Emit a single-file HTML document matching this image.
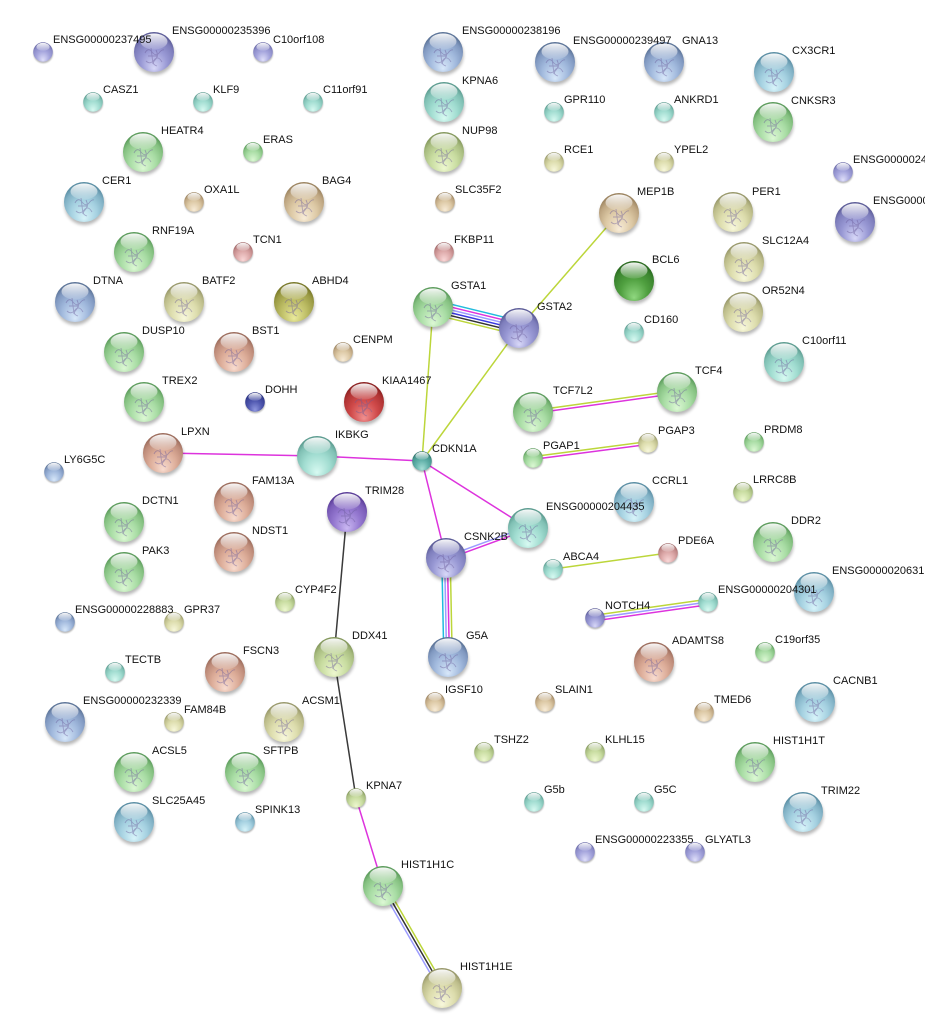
<!DOCTYPE html>
<html><head><meta charset="utf-8"><style>
html,body{margin:0;padding:0;background:#fff;}
svg{display:block;}
text{font-family:"Liberation Sans",Arial,sans-serif;font-size:11px;fill:#111;}
</style></head><body>
<svg width="925" height="1033" viewBox="0 0 925 1033" xmlns="http://www.w3.org/2000/svg" xmlns:xlink="http://www.w3.org/1999/xlink">
<defs>
<filter id="bl" x="-50%" y="-50%" width="200%" height="200%"><feGaussianBlur stdDeviation="1.6"/></filter>
<linearGradient id="hl" x1="0" y1="0" x2="0" y2="1"><stop offset="0" stop-color="#fff" stop-opacity=".95"/><stop offset="1" stop-color="#fff" stop-opacity=".12"/></linearGradient>
<radialGradient id="g-lav" cx="50%" cy="65%" r="60%" fx="50%" fy="92%"><stop offset="0" stop-color="#e0e0fa"/><stop offset=".55" stop-color="#a4a4dc"/><stop offset=".85" stop-color="#8c8cc8"/><stop offset="1" stop-color="#6a6aa8"/></radialGradient>
<radialGradient id="g-purple" cx="50%" cy="65%" r="60%" fx="50%" fy="92%"><stop offset="0" stop-color="#cab8f2"/><stop offset=".55" stop-color="#9478d0"/><stop offset=".85" stop-color="#7a5cb8"/><stop offset="1" stop-color="#5a3c98"/></radialGradient>
<radialGradient id="g-gpur" cx="50%" cy="65%" r="60%" fx="50%" fy="92%"><stop offset="0" stop-color="#d8d8f8"/><stop offset=".55" stop-color="#9898d4"/><stop offset=".85" stop-color="#7e7ebc"/><stop offset="1" stop-color="#5c5c98"/></radialGradient>
<radialGradient id="g-blue" cx="50%" cy="65%" r="60%" fx="50%" fy="92%"><stop offset="0" stop-color="#d8e8fa"/><stop offset=".55" stop-color="#a0b8dc"/><stop offset=".85" stop-color="#8098c0"/><stop offset="1" stop-color="#5c7498"/></radialGradient>
<radialGradient id="g-lblue" cx="50%" cy="65%" r="60%" fx="50%" fy="92%"><stop offset="0" stop-color="#d8f4fa"/><stop offset=".55" stop-color="#a4d0e0"/><stop offset=".85" stop-color="#80b0c4"/><stop offset="1" stop-color="#5a8ea4"/></radialGradient>
<radialGradient id="g-cyan" cx="50%" cy="65%" r="60%" fx="50%" fy="92%"><stop offset="0" stop-color="#d8faf2"/><stop offset=".55" stop-color="#a0dcd0"/><stop offset=".85" stop-color="#80c0b4"/><stop offset="1" stop-color="#5c9c90"/></radialGradient>
<radialGradient id="g-teal" cx="50%" cy="65%" r="60%" fx="50%" fy="92%"><stop offset="0" stop-color="#a8e0d8"/><stop offset=".55" stop-color="#60b0a8"/><stop offset=".85" stop-color="#489890"/><stop offset="1" stop-color="#2c7068"/></radialGradient>
<radialGradient id="g-green" cx="50%" cy="65%" r="60%" fx="50%" fy="92%"><stop offset="0" stop-color="#dcf8d4"/><stop offset=".55" stop-color="#a8dca4"/><stop offset=".85" stop-color="#84c080"/><stop offset="1" stop-color="#5c9c5c"/></radialGradient>
<radialGradient id="g-yg" cx="50%" cy="65%" r="60%" fx="50%" fy="92%"><stop offset="0" stop-color="#eef8d0"/><stop offset=".55" stop-color="#c8dca0"/><stop offset=".85" stop-color="#a8bc80"/><stop offset="1" stop-color="#84985c"/></radialGradient>
<radialGradient id="g-yellow" cx="50%" cy="65%" r="60%" fx="50%" fy="92%"><stop offset="0" stop-color="#f8f8dc"/><stop offset=".55" stop-color="#dcdcac"/><stop offset=".85" stop-color="#bcbc8a"/><stop offset="1" stop-color="#98986a"/></radialGradient>
<radialGradient id="g-tan" cx="50%" cy="65%" r="60%" fx="50%" fy="92%"><stop offset="0" stop-color="#f8ecd8"/><stop offset=".55" stop-color="#dcc8a4"/><stop offset=".85" stop-color="#bea682"/><stop offset="1" stop-color="#9c8460"/></radialGradient>
<radialGradient id="g-salmon" cx="50%" cy="65%" r="60%" fx="50%" fy="92%"><stop offset="0" stop-color="#f8dcd0"/><stop offset=".55" stop-color="#dcac98"/><stop offset=".85" stop-color="#be8c7a"/><stop offset="1" stop-color="#9c6c5c"/></radialGradient>
<radialGradient id="g-pink" cx="50%" cy="65%" r="60%" fx="50%" fy="92%"><stop offset="0" stop-color="#fad8d8"/><stop offset=".55" stop-color="#dca8a8"/><stop offset=".85" stop-color="#c08888"/><stop offset="1" stop-color="#a06868"/></radialGradient>
<radialGradient id="g-red" cx="50%" cy="65%" r="60%" fx="50%" fy="92%"><stop offset="0" stop-color="#f09090"/><stop offset=".55" stop-color="#d04a4a"/><stop offset=".85" stop-color="#b03434"/><stop offset="1" stop-color="#8c2020"/></radialGradient>
<radialGradient id="g-dgreen" cx="50%" cy="65%" r="60%" fx="50%" fy="92%"><stop offset="0" stop-color="#90d880"/><stop offset=".55" stop-color="#50a040"/><stop offset=".85" stop-color="#3c8630"/><stop offset="1" stop-color="#2a6a20"/></radialGradient>
<radialGradient id="g-navy" cx="50%" cy="65%" r="60%" fx="50%" fy="92%"><stop offset="0" stop-color="#9098e0"/><stop offset=".55" stop-color="#5058b0"/><stop offset=".85" stop-color="#3c4498"/><stop offset="1" stop-color="#283080"/></radialGradient>
<radialGradient id="g-olive" cx="50%" cy="65%" r="60%" fx="50%" fy="92%"><stop offset="0" stop-color="#eaea9c"/><stop offset=".55" stop-color="#bcbc64"/><stop offset=".85" stop-color="#9a9a44"/><stop offset="1" stop-color="#787828"/></radialGradient>

<g id="sh"><circle cx="0.5" cy="3" r="20" fill="#000" opacity=".28" filter="url(#bl)"/></g>
<ellipse id="hi" cx="0" cy="-10.5" rx="13.5" ry="8" fill="url(#hl)"/>
<g id="n-lav"><use href="#sh"/><circle r="20" fill="url(#g-lav)"/><use href="#hi"/></g>
<g id="n-purple"><use href="#sh"/><circle r="20" fill="url(#g-purple)"/><use href="#hi"/></g>
<g id="n-gpur"><use href="#sh"/><circle r="20" fill="url(#g-gpur)"/><use href="#hi"/></g>
<g id="n-blue"><use href="#sh"/><circle r="20" fill="url(#g-blue)"/><use href="#hi"/></g>
<g id="n-lblue"><use href="#sh"/><circle r="20" fill="url(#g-lblue)"/><use href="#hi"/></g>
<g id="n-cyan"><use href="#sh"/><circle r="20" fill="url(#g-cyan)"/><use href="#hi"/></g>
<g id="n-teal"><use href="#sh"/><circle r="20" fill="url(#g-teal)"/><use href="#hi"/></g>
<g id="n-green"><use href="#sh"/><circle r="20" fill="url(#g-green)"/><use href="#hi"/></g>
<g id="n-yg"><use href="#sh"/><circle r="20" fill="url(#g-yg)"/><use href="#hi"/></g>
<g id="n-yellow"><use href="#sh"/><circle r="20" fill="url(#g-yellow)"/><use href="#hi"/></g>
<g id="n-tan"><use href="#sh"/><circle r="20" fill="url(#g-tan)"/><use href="#hi"/></g>
<g id="n-salmon"><use href="#sh"/><circle r="20" fill="url(#g-salmon)"/><use href="#hi"/></g>
<g id="n-pink"><use href="#sh"/><circle r="20" fill="url(#g-pink)"/><use href="#hi"/></g>
<g id="n-red"><use href="#sh"/><circle r="20" fill="url(#g-red)"/><use href="#hi"/></g>
<g id="n-dgreen"><use href="#sh"/><circle r="20" fill="url(#g-dgreen)"/><use href="#hi"/></g>
<g id="n-navy"><use href="#sh"/><circle r="20" fill="url(#g-navy)"/><use href="#hi"/></g>
<g id="n-olive"><use href="#sh"/><circle r="20" fill="url(#g-olive)"/><use href="#hi"/></g>
<g id="st" fill="none" stroke="#6a5a9a" stroke-width=".9" opacity=".45"><path d="M-9,-3 q3,-6 7,-1 t7,1 t5,-3 M-8,5 q4,4 8,-1 t8,2 M-3,-8 l2,16 M2,-6 q3,6 -1,10 t2,6 M-6,0 h10"/></g>
</defs>

<!-- edges -->
<g fill="none" stroke-width="1.5" stroke-linecap="round">
<line x1="163" y1="453" x2="317" y2="456" stroke="#dd33dd"/>
<line x1="317" y1="456" x2="422" y2="461" stroke="#dd33dd"/>
<line x1="422" y1="461" x2="433" y2="307" stroke="#bcd63a"/>
<line x1="422" y1="461" x2="519" y2="328" stroke="#bcd63a"/>
<line x1="519" y1="328" x2="619" y2="213" stroke="#bcd63a"/>
<line x1="422" y1="461" x2="528" y2="528" stroke="#dd33dd"/>
<line x1="422" y1="461" x2="446" y2="558" stroke="#dd33dd"/>
<line x1="553" y1="569" x2="668" y2="553" stroke="#bcd63a"/>
<line x1="347" y1="512" x2="334" y2="657" stroke="#3a3a3a"/>
<line x1="334" y1="657" x2="356" y2="798" stroke="#3a3a3a"/>
<line x1="356" y1="798" x2="383" y2="886" stroke="#dd33dd"/>
<!-- GSTA1-GSTA2 -->
<g transform="translate(433,307) rotate(13.72)">
<line x1="0" y1="-7" x2="88.5" y2="-7" stroke="#22bbdd"/>
<line x1="0" y1="-4.2" x2="88.5" y2="-4.2" stroke="#dd33dd"/>
<line x1="0" y1="-1.4" x2="88.5" y2="-1.4" stroke="#9c9cff"/>
<line x1="0" y1="1.4" x2="88.5" y2="1.4" stroke="#3a3ae0"/>
<line x1="0" y1="4.2" x2="88.5" y2="4.2" stroke="#333"/>
<line x1="0" y1="7" x2="88.5" y2="7" stroke="#bcd63a"/>
</g>
<!-- CSNK2B-G5A -->
<g transform="translate(446,558) rotate(88.84)">
<line x1="0" y1="4.2" x2="99" y2="4.2" stroke="#22bbdd"/>
<line x1="0" y1="1.4" x2="99" y2="1.4" stroke="#9c9cff"/>
<line x1="0" y1="-1.4" x2="99" y2="-1.4" stroke="#dd33dd"/>
<line x1="0" y1="-4.2" x2="99" y2="-4.2" stroke="#bcd63a"/>
</g>
<!-- CSNK2B-ENSG435 -->
<g transform="translate(446,558) rotate(-20.09)">
<line x1="0" y1="-1.4" x2="87.3" y2="-1.4" stroke="#9c9cff"/>
<line x1="0" y1="1.4" x2="87.3" y2="1.4" stroke="#dd33dd"/>
</g>
<!-- TCF7L2-TCF4 -->
<g transform="translate(533,412) rotate(-7.91)">
<line x1="0" y1="-1.4" x2="145.4" y2="-1.4" stroke="#bcd63a"/>
<line x1="0" y1="1.4" x2="145.4" y2="1.4" stroke="#dd33dd"/>
</g>
<!-- PGAP1-PGAP3 -->
<g transform="translate(533,458) rotate(-7.43)">
<line x1="0" y1="-1.4" x2="116" y2="-1.4" stroke="#bcd63a"/>
<line x1="0" y1="1.4" x2="116" y2="1.4" stroke="#dd33dd"/>
</g>
<!-- NOTCH4-ENSG301 -->
<g transform="translate(595,618) rotate(-8.06)">
<line x1="0" y1="-2.8" x2="114.1" y2="-2.8" stroke="#bcd63a"/>
<line x1="0" y1="0" x2="114.1" y2="0" stroke="#9c9cff"/>
<line x1="0" y1="2.8" x2="114.1" y2="2.8" stroke="#dd33dd"/>
</g>
<!-- HIST1H1C-HIST1H1E -->
<g transform="translate(383,886) rotate(59.96)">
<line x1="0" y1="2.8" x2="117.8" y2="2.8" stroke="#9c9cff"/>
<line x1="0" y1="0" x2="117.8" y2="0" stroke="#333"/>
<line x1="0" y1="-2.8" x2="117.8" y2="-2.8" stroke="#bcd63a"/>
</g>
</g>

<!-- nodes: large -->
<use href="#n-gpur" transform="translate(154,52)"/>
<use href="#n-green" transform="translate(143,152)"/>
<use href="#n-lblue" transform="translate(84,202)"/>
<use href="#n-tan" transform="translate(304,202)"/>
<use href="#n-green" transform="translate(134,252)"/>
<use href="#n-blue" transform="translate(75,302)"/>
<use href="#n-yellow" transform="translate(184,302)"/>
<use href="#n-olive" transform="translate(294,302)"/>
<use href="#n-green" transform="translate(124,352)"/>
<use href="#n-salmon" transform="translate(234,352)"/>
<use href="#n-green" transform="translate(144,402)"/>
<use href="#n-red" transform="translate(364,402)"/>
<use href="#n-salmon" transform="translate(163,453)"/>
<use href="#n-cyan" transform="translate(317,456)"/>
<use href="#n-salmon" transform="translate(234,502)"/>
<use href="#n-purple" transform="translate(347,512)"/>
<use href="#n-green" transform="translate(124,522)"/>
<use href="#n-salmon" transform="translate(234,552)"/>
<use href="#n-green" transform="translate(124,572)"/>
<use href="#n-yg" transform="translate(334,657)"/>
<use href="#n-salmon" transform="translate(225,672)"/>
<use href="#n-blue" transform="translate(65,722)"/>
<use href="#n-yellow" transform="translate(284,722)"/>
<use href="#n-green" transform="translate(134,772)"/>
<use href="#n-green" transform="translate(245,772)"/>
<use href="#n-lblue" transform="translate(134,822)"/>
<use href="#n-green" transform="translate(383,886)"/>
<use href="#n-yellow" transform="translate(442,988)"/>
<use href="#n-blue" transform="translate(443,52)"/>
<use href="#n-cyan" transform="translate(444,102)"/>
<use href="#n-yg" transform="translate(444,152)"/>
<use href="#n-green" transform="translate(433,307)"/>
<use href="#n-gpur" transform="translate(519,328)"/>
<use href="#n-blue" transform="translate(555,62)"/>
<use href="#n-blue" transform="translate(664,62)"/>
<use href="#n-tan" transform="translate(619,213)"/>
<use href="#n-dgreen" transform="translate(634,281)"/>
<use href="#n-green" transform="translate(677,392)"/>
<use href="#n-green" transform="translate(533,412)"/>
<use href="#n-lblue" transform="translate(634,502)"/>
<use href="#n-cyan" transform="translate(528,528)"/>
<use href="#n-gpur" transform="translate(446,558)"/>
<use href="#n-blue" transform="translate(448,657)"/>
<use href="#n-salmon" transform="translate(654,662)"/>
<use href="#n-lblue" transform="translate(774,72)"/>
<use href="#n-green" transform="translate(773,122)"/>
<use href="#n-yellow" transform="translate(733,212)"/>
<use href="#n-gpur" transform="translate(855,222)"/>
<use href="#n-yellow" transform="translate(744,262)"/>
<use href="#n-yellow" transform="translate(743,312)"/>
<use href="#n-cyan" transform="translate(784,362)"/>
<use href="#n-green" transform="translate(773,542)"/>
<use href="#n-lblue" transform="translate(814,592)"/>
<use href="#n-lblue" transform="translate(815,702)"/>
<use href="#n-green" transform="translate(755,762)"/>
<use href="#n-lblue" transform="translate(803,812)"/>

<!-- structure hints on large nodes -->
<g>
<use href="#st" transform="translate(154,56)"/><use href="#st" transform="translate(143,156)"/><use href="#st" transform="translate(84,206)"/><use href="#st" transform="translate(304,206)"/><use href="#st" transform="translate(134,256)"/><use href="#st" transform="translate(75,306)"/><use href="#st" transform="translate(184,306)"/><use href="#st" transform="translate(294,306)"/><use href="#st" transform="translate(124,356)"/><use href="#st" transform="translate(234,356)"/><use href="#st" transform="translate(144,406)"/><use href="#st" transform="translate(364,406)"/><use href="#st" transform="translate(163,457)"/><use href="#st" transform="translate(234,506)"/><use href="#st" transform="translate(347,516)"/><use href="#st" transform="translate(124,526)"/><use href="#st" transform="translate(234,556)"/><use href="#st" transform="translate(124,576)"/><use href="#st" transform="translate(334,661)"/><use href="#st" transform="translate(225,676)"/><use href="#st" transform="translate(65,726)"/><use href="#st" transform="translate(284,726)"/><use href="#st" transform="translate(134,776)"/><use href="#st" transform="translate(245,776)"/><use href="#st" transform="translate(134,826)"/><use href="#st" transform="translate(383,890)"/><use href="#st" transform="translate(442,992)"/><use href="#st" transform="translate(443,56)"/><use href="#st" transform="translate(444,106)"/><use href="#st" transform="translate(444,156)"/><use href="#st" transform="translate(433,311)"/><use href="#st" transform="translate(519,332)"/><use href="#st" transform="translate(555,66)"/><use href="#st" transform="translate(664,66)"/><use href="#st" transform="translate(619,217)"/><use href="#st" transform="translate(677,396)"/><use href="#st" transform="translate(533,416)"/><use href="#st" transform="translate(634,506)"/><use href="#st" transform="translate(528,532)"/><use href="#st" transform="translate(446,562)"/><use href="#st" transform="translate(448,661)"/><use href="#st" transform="translate(654,666)"/><use href="#st" transform="translate(774,76)"/><use href="#st" transform="translate(773,126)"/><use href="#st" transform="translate(733,216)"/><use href="#st" transform="translate(855,226)"/><use href="#st" transform="translate(744,266)"/><use href="#st" transform="translate(743,316)"/><use href="#st" transform="translate(784,366)"/><use href="#st" transform="translate(773,546)"/><use href="#st" transform="translate(814,596)"/><use href="#st" transform="translate(815,706)"/><use href="#st" transform="translate(755,766)"/><use href="#st" transform="translate(803,816)"/>
</g>

<!-- nodes: small -->
<use href="#n-lav" transform="translate(43,52) scale(.49)"/>
<use href="#n-lav" transform="translate(263,52) scale(.49)"/>
<use href="#n-cyan" transform="translate(93,102) scale(.49)"/>
<use href="#n-cyan" transform="translate(203,102) scale(.49)"/>
<use href="#n-cyan" transform="translate(313,102) scale(.49)"/>
<use href="#n-green" transform="translate(253,152) scale(.49)"/>
<use href="#n-tan" transform="translate(194,202) scale(.49)"/>
<use href="#n-pink" transform="translate(243,252) scale(.49)"/>
<use href="#n-tan" transform="translate(343,352) scale(.49)"/>
<use href="#n-navy" transform="translate(255,402) scale(.49)"/>
<use href="#n-blue" transform="translate(54,472) scale(.49)"/>
<use href="#n-teal" transform="translate(422,461) scale(.49)"/>
<use href="#n-yg" transform="translate(285,602) scale(.49)"/>
<use href="#n-blue" transform="translate(65,622) scale(.49)"/>
<use href="#n-yellow" transform="translate(174,622) scale(.49)"/>
<use href="#n-cyan" transform="translate(115,672) scale(.49)"/>
<use href="#n-yellow" transform="translate(174,722) scale(.49)"/>
<use href="#n-lblue" transform="translate(245,822) scale(.49)"/>
<use href="#n-yg" transform="translate(356,798) scale(.49)"/>
<use href="#n-tan" transform="translate(445,202) scale(.49)"/>
<use href="#n-pink" transform="translate(444,252) scale(.49)"/>
<use href="#n-cyan" transform="translate(554,112) scale(.49)"/>
<use href="#n-cyan" transform="translate(664,112) scale(.49)"/>
<use href="#n-yellow" transform="translate(554,162) scale(.49)"/>
<use href="#n-yellow" transform="translate(664,162) scale(.49)"/>
<use href="#n-cyan" transform="translate(634,332) scale(.49)"/>
<use href="#n-yellow" transform="translate(648,443) scale(.49)"/>
<use href="#n-green" transform="translate(533,458) scale(.49)"/>
<use href="#n-pink" transform="translate(668,553) scale(.49)"/>
<use href="#n-cyan" transform="translate(553,569) scale(.49)"/>
<use href="#n-cyan" transform="translate(708,602) scale(.49)"/>
<use href="#n-gpur" transform="translate(595,618) scale(.49)"/>
<use href="#n-tan" transform="translate(435,702) scale(.49)"/>
<use href="#n-tan" transform="translate(545,702) scale(.49)"/>
<use href="#n-tan" transform="translate(704,712) scale(.49)"/>
<use href="#n-yg" transform="translate(484,752) scale(.49)"/>
<use href="#n-yg" transform="translate(595,752) scale(.49)"/>
<use href="#n-cyan" transform="translate(534,802) scale(.49)"/>
<use href="#n-cyan" transform="translate(644,802) scale(.49)"/>
<use href="#n-lav" transform="translate(585,852) scale(.49)"/>
<use href="#n-lav" transform="translate(695,852) scale(.49)"/>
<use href="#n-lav" transform="translate(843,172) scale(.49)"/>
<use href="#n-green" transform="translate(754,442) scale(.49)"/>
<use href="#n-yg" transform="translate(743,492) scale(.49)"/>
<use href="#n-green" transform="translate(765,652) scale(.49)"/>

<!-- labels -->
<g>
<text x="53" y="43">ENSG00000237495</text>
<text x="172" y="34">ENSG00000235396</text>
<text x="273" y="43">C10orf108</text>
<text x="103" y="93">CASZ1</text>
<text x="213" y="93">KLF9</text>
<text x="323" y="93">C11orf91</text>
<text x="161" y="134">HEATR4</text>
<text x="263" y="143">ERAS</text>
<text x="102" y="184">CER1</text>
<text x="204" y="193">OXA1L</text>
<text x="322" y="184">BAG4</text>
<text x="152" y="234">RNF19A</text>
<text x="253" y="243">TCN1</text>
<text x="93" y="284">DTNA</text>
<text x="202" y="284">BATF2</text>
<text x="312" y="284">ABHD4</text>
<text x="142" y="334">DUSP10</text>
<text x="252" y="334">BST1</text>
<text x="353" y="343">CENPM</text>
<text x="162" y="384">TREX2</text>
<text x="265" y="393">DOHH</text>
<text x="382" y="384">KIAA1467</text>
<text x="181" y="435">LPXN</text>
<text x="335" y="438">IKBKG</text>
<text x="64" y="463">LY6G5C</text>
<text x="432" y="452">CDKN1A</text>
<text x="252" y="484">FAM13A</text>
<text x="365" y="494">TRIM28</text>
<text x="142" y="504">DCTN1</text>
<text x="252" y="534">NDST1</text>
<text x="142" y="554">PAK3</text>
<text x="295" y="593">CYP4F2</text>
<text x="75" y="613">ENSG00000228883</text>
<text x="184" y="613">GPR37</text>
<text x="352" y="639">DDX41</text>
<text x="243" y="654">FSCN3</text>
<text x="125" y="663">TECTB</text>
<text x="83" y="704">ENSG00000232339</text>
<text x="184" y="713">FAM84B</text>
<text x="302" y="704">ACSM1</text>
<text x="152" y="754">ACSL5</text>
<text x="263" y="754">SFTPB</text>
<text x="152" y="804">SLC25A45</text>
<text x="255" y="813">SPINK13</text>
<text x="366" y="789">KPNA7</text>
<text x="401" y="868">HIST1H1C</text>
<text x="460" y="970">HIST1H1E</text>
<text x="462" y="34">ENSG00000238196</text>
<text x="462" y="84">KPNA6</text>
<text x="462" y="134">NUP98</text>
<text x="455" y="193">SLC35F2</text>
<text x="454" y="243">FKBP11</text>
<text x="451" y="289">GSTA1</text>
<text x="537" y="310">GSTA2</text>
<text x="573" y="44">ENSG00000239497</text>
<text x="682" y="44">GNA13</text>
<text x="564" y="103">GPR110</text>
<text x="674" y="103">ANKRD1</text>
<text x="564" y="153">RCE1</text>
<text x="674" y="153">YPEL2</text>
<text x="637" y="195">MEP1B</text>
<text x="652" y="263">BCL6</text>
<text x="644" y="323">CD160</text>
<text x="695" y="374">TCF4</text>
<text x="553" y="394">TCF7L2</text>
<text x="658" y="434">PGAP3</text>
<text x="543" y="449">PGAP1</text>
<text x="652" y="484">CCRL1</text>
<text x="546" y="510">ENSG00000204435</text>
<text x="464" y="540">CSNK2B</text>
<text x="678" y="544">PDE6A</text>
<text x="563" y="560">ABCA4</text>
<text x="718" y="593">ENSG00000204301</text>
<text x="605" y="609">NOTCH4</text>
<text x="466" y="639">G5A</text>
<text x="672" y="644">ADAMTS8</text>
<text x="445" y="693">IGSF10</text>
<text x="555" y="693">SLAIN1</text>
<text x="714" y="703">TMED6</text>
<text x="494" y="743">TSHZ2</text>
<text x="605" y="743">KLHL15</text>
<text x="544" y="793">G5b</text>
<text x="654" y="793">G5C</text>
<text x="595" y="843">ENSG00000223355</text>
<text x="705" y="843">GLYATL3</text>
<text x="792" y="54">CX3CR1</text>
<text x="791" y="104">CNKSR3</text>
<text x="853" y="163">ENSG0000024</text>
<text x="752" y="195">PER1</text>
<text x="873" y="204">ENSG0000</text>
<text x="762" y="244">SLC12A4</text>
<text x="762" y="294">OR52N4</text>
<text x="802" y="344">C10orf11</text>
<text x="764" y="433">PRDM8</text>
<text x="753" y="483">LRRC8B</text>
<text x="791" y="524">DDR2</text>
<text x="832" y="574">ENSG0000020631</text>
<text x="775" y="643">C19orf35</text>
<text x="833" y="684">CACNB1</text>
<text x="773" y="744">HIST1H1T</text>
<text x="821" y="794">TRIM22</text>
</g>
</svg>
</body></html>
